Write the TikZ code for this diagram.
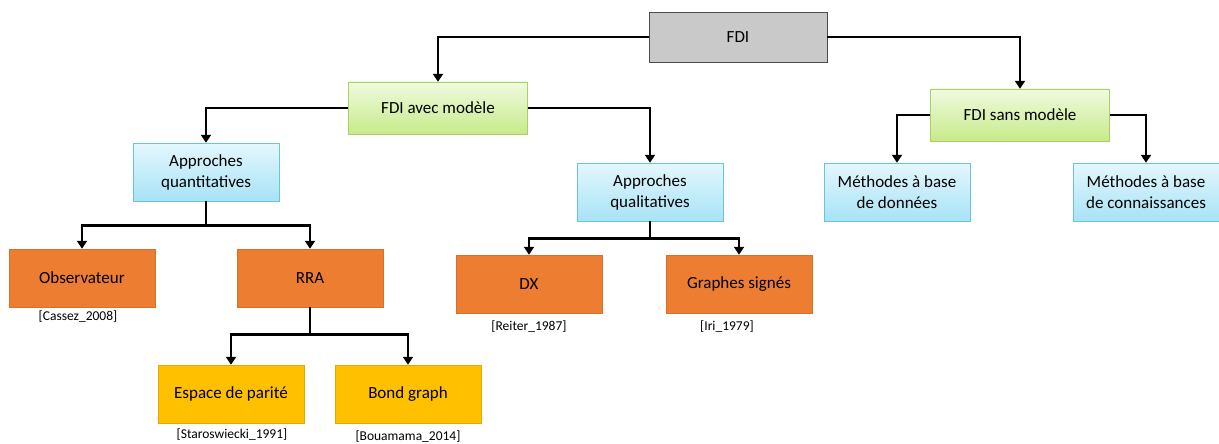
\documentclass[tikz,border=0pt]{standalone}
\usepackage{fontspec}
\setmainfont{Carlito}
\usetikzlibrary{arrows.meta}
\definecolor{grisfdi}{HTML}{C9C9C9}
\definecolor{vertclair}{HTML}{F1FADF}
\definecolor{vertfonce}{HTML}{C6EB8A}
\definecolor{vertbord}{HTML}{A9CF6A}
\definecolor{bleuclair}{HTML}{E4F7FD}
\definecolor{bleufonce}{HTML}{A7E3F6}
\definecolor{bleubord}{HTML}{6CC3DC}
\definecolor{orange}{HTML}{ED7D31}
\definecolor{orangebord}{HTML}{D8702A}
\definecolor{jaune}{HTML}{FFC000}
\definecolor{jaunebord}{HTML}{E2A900}
\begin{document}
\begin{tikzpicture}[x=1pt,y=-1pt,
  box/.style={draw,rectangle,align=center,inner sep=2pt,font=\fontsize{17}{21}\selectfont,minimum width=146pt,minimum height=58pt},
  root node/.style={box,fill=grisfdi,draw=black!70,minimum width=178pt,minimum height=50pt},
  green node/.style={box,top color=vertclair,bottom color=vertfonce,draw=vertbord,minimum width=179pt,minimum height=52pt},
  blue node/.style={box,top color=bleuclair,bottom color=bleufonce,draw=bleubord},
  orange node/.style={box,fill=orange,draw=orangebord},
  yellow node/.style={box,fill=jaune,draw=jaunebord},
  ref/.style={font=\fontsize{13.5}{16}\selectfont,inner sep=1pt},
  arr/.style={line width=2.8pt,-{Triangle[width=10pt,length=8pt]}}]
  \useasboundingbox (0,0) rectangle (1219,444);

  \node[root node] (fdi) at (738,37) {FDI};
  \node[green node] (avec) at (438,108) {FDI avec modèle};
  \node[green node] (sans) at (1020,115) {FDI sans modèle};
  \node[blue node] (quant) at (206,172) {Approches\\quantitatives};
  \node[blue node] (qual) at (650,192) {Approches\\qualitatives};
  \node[blue node] (bd) at (897,192) {Méthodes à base\\de données};
  \node[blue node] (bc) at (1146,192) {Méthodes à base\\de connaissances};
  \node[orange node] (obs) at (82,278) {Observateur};
  \node[orange node] (rra) at (310,278) {RRA};
  \node[orange node] (dx) at (529,284) {DX};
  \node[orange node] (gs) at (739,284) {Graphes signés};
  \node[yellow node] (ep) at (231,394) {Espace de parité};
  \node[yellow node] (bg) at (408,394) {Bond graph};

  \node[ref] (r1) at (78,317) {[Cassez\_2008]};
  \node[ref] (r2) at (529,327) {[Reiter\_1987]};
  \node[ref] (r3) at (727,327) {[Iri\_1979]};
  \node[ref] (r4) at (232,435) {[Staroswiecki\_1991]};
  \node[ref] (r5) at (408,437) {[Bouamama\_2014]};

  \draw[arr] (fdi.west) -| (avec.north);
  \draw[arr] (fdi.east) -| (sans.north);
  \draw[arr] (avec.west) -| (quant.north);
  \draw[arr] (avec.east) -| (qual.north);
  \draw[arr] (sans.west) -| (bd.north);
  \draw[arr] (sans.east) -| (bc.north);
  \draw[arr] (quant.south) -- ++(0,24) -| (obs.north);
  \draw[arr] (quant.south) -- ++(0,24) -| (rra.north);
  \draw[arr] (qual.south) -- ++(0,17) -| (dx.north);
  \draw[arr] (qual.south) -- ++(0,17) -| (gs.north);
  \draw[arr] (rra.south) -- ++(0,27) -| (ep.north);
  \draw[arr] (rra.south) -- ++(0,27) -| (bg.north);
\end{tikzpicture}
\end{document}
